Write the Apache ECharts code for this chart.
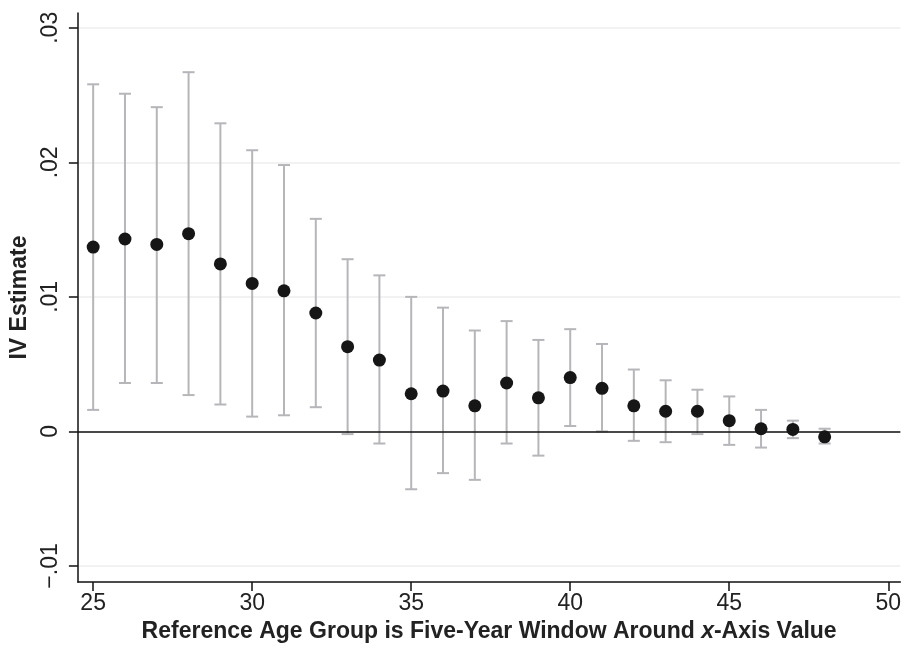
<!DOCTYPE html>
<html>
<head>
<meta charset="utf-8">
<script src="https://cdn.jsdelivr.net/npm/echarts@6/dist/echarts.min.js"></script>
<style>
  html, body { margin: 0; padding: 0; background: #fff; }
  #chart { width: 904px; height: 648px; }
</style>
</head>
<body>
<div id="chart"></div>
<script>
// reference age groups and IV estimates with their confidence bounds
const ages = [25, 26, 27, 28, 29, 30, 31, 32, 33, 34, 35, 36, 37, 38, 39, 40, 41, 42, 43, 44, 45, 46, 47, 48];
const estimates = [0.0137, 0.0143, 0.0139, 0.0147, 0.01245, 0.0110, 0.01045, 0.0088, 0.0063, 0.0053, 0.0028, 0.0030, 0.0019, 0.0036, 0.0025, 0.0040, 0.0032, 0.0019, 0.0015, 0.0015, 0.0008, 0.0002, 0.00015, -0.0004];
const ciLow = [0.0016, 0.0036, 0.0036, 0.0027, 0.0020, 0.0011, 0.0012, 0.0018, -0.0002, -0.0009, -0.0043, -0.0031, -0.0036, -0.0009, -0.0018, 0.0004, 0.0000, -0.0007, -0.0008, -0.0002, -0.0010, -0.0012, -0.0005, -0.0009];
const ciHigh = [0.0258, 0.0251, 0.0241, 0.0267, 0.0229, 0.0209, 0.0198, 0.0158, 0.0128, 0.0116, 0.0100, 0.0092, 0.0075, 0.0082, 0.0068, 0.0076, 0.0065, 0.0046, 0.0038, 0.0031, 0.0026, 0.0016, 0.0008, 0.0002];

const xTicks = [25, 30, 35, 40, 45, 50];
const yTicks = [-0.01, 0, 0.01, 0.02, 0.03];
const yTickLabels = ['\u2212.01', '0', '.01', '.02', '.03'];

const font = 'Liberation Sans, Arial, Helvetica, sans-serif';

let myChart = echarts.init(document.getElementById('chart'));

myChart.setOption({
  animation: false,
  backgroundColor: '#ffffff',
  grid: {
    left: 74,
    right: 0,
    top: 13,
    bottom: 61
  },
  xAxis: {
    type: 'value',
    min: 24.52,
    max: 50.38,
    name: 'Reference Age Group is Five-Year Window Around {i|x}-Axis Value',
    nameLocation: 'middle',
    nameGap: 34,
    nameTextStyle: {
      fontFamily: font,
      fontSize: 23,
      fontWeight: 'bold',
      color: '#222',
      rich: {
        i: { fontFamily: font, fontSize: 23, fontWeight: 'bold', fontStyle: 'italic', color: '#222' }
      }
    },
    axisLine: { show: true, onZero: false, lineStyle: { color: '#111', width: 1.5 } },
    axisTick: { show: true, length: 9, customValues: xTicks, lineStyle: { color: '#111', width: 1.5 } },
    axisLabel: {
      customValues: xTicks,
      margin: 10,
      fontFamily: font,
      fontSize: 23,
      color: '#222'
    },
    splitLine: { show: false }
  },
  yAxis: {
    type: 'value',
    min: -0.0112,
    max: 0.0311,
    name: 'IV Estimate',
    nameLocation: 'middle',
    nameGap: 46,
    nameTextStyle: {
      fontFamily: font,
      fontSize: 23,
      fontWeight: 'bold',
      color: '#222'
    },
    axisLine: { show: true, lineStyle: { color: '#111', width: 1.5 } },
    axisTick: { show: true, length: 9, customValues: yTicks, lineStyle: { color: '#111', width: 1.5 } },
    axisLabel: {
      customValues: yTicks,
      rotate: 90,
      margin: 16,
      fontFamily: font,
      fontSize: 23,
      color: '#222',
      formatter: (v) => {
        const i = yTicks.findIndex((t) => Math.abs(t - v) < 1e-9);
        return i >= 0 ? yTickLabels[i] : '';
      }
    },
    splitLine: { show: true, lineStyle: { color: '#eeeeee', width: 1.5 } }
  },
  series: [
    {
      name: 'CI',
      type: 'custom',
      z: 2,
      data: ages.map((a, i) => [a, ciLow[i], ciHigh[i]]),
      encode: { x: 0, y: [1, 2] },
      renderItem: (params, api) => {
        const x = api.value(0);
        const lo = api.coord([x, api.value(1)]);
        const hi = api.coord([x, api.value(2)]);
        const cap = 6;
        const style = { stroke: '#b6b6ba', lineWidth: 2 };
        return {
          type: 'group',
          children: [
            { type: 'line', shape: { x1: lo[0], y1: lo[1], x2: hi[0], y2: hi[1] }, style: style },
            { type: 'line', shape: { x1: hi[0] - cap, y1: hi[1], x2: hi[0] + cap, y2: hi[1] }, style: style },
            { type: 'line', shape: { x1: lo[0] - cap, y1: lo[1], x2: lo[0] + cap, y2: lo[1] }, style: style }
          ]
        };
      },
      markLine: {
        silent: true,
        symbol: 'none',
        label: { show: false },
        lineStyle: { color: '#111', width: 1.5, type: 'solid' },
        data: [{ yAxis: 0 }]
      }
    },
    {
      name: 'IV Estimate',
      type: 'scatter',
      z: 10,
      symbol: 'circle',
      symbolSize: 13,
      itemStyle: { color: '#161616', opacity: 1 },
      data: ages.map((a, i) => [a, estimates[i]])
    }
  ]
});
</script>
</body>
</html>
